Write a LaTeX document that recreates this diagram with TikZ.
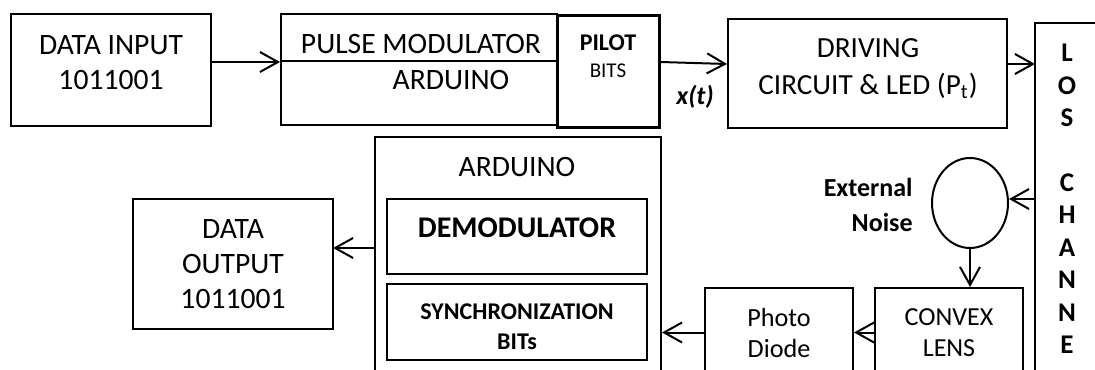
\documentclass[tikz,border=0pt]{standalone}
\usepackage{fontspec}
\setmainfont{Carlito}
\usetikzlibrary{shapes.geometric, arrows.meta, positioning, calc}

\begin{document}
\begin{tikzpicture}[x=0.5pt, y=-0.5pt,
  block/.style={rectangle, draw=black, line width=1pt, inner sep=0pt, align=center, font=\fontsize{14.8}{17.5}\selectfont},
  lbl/.style={inner sep=0pt, align=center, font=\fontsize{14.8}{17.5}\selectfont},
  link/.style={line width=1pt, -{Straight Barb[length=9pt, width=10pt]}}]
\useasboundingbox (0,0) rectangle (1095,369);
\clip (0,0) rectangle (1095,369);

% transmitter
\node[block, minimum width=100pt, minimum height=56pt] (in) at (111,70) {};
\node[lbl] at (111,62.5) {DATA INPUT\\1011001};
\node[block, minimum width=138pt, minimum height=23.5pt] (pulse) at (419,37.5) {};
\node[block, minimum width=138pt, minimum height=32pt] (ardtx) at (419,93) {};
\node[lbl] at (421,44) {PULSE MODULATOR};
\node[lbl] at (451,80) {ARDUINO};
\node[block, line width=1.5pt, minimum width=51pt, minimum height=55.5pt] (pilot) at (608,71.5) {};
\node[lbl, font=\fontsize{12}{14}\selectfont\bfseries] at (608,43) {PILOT};
\node[lbl, font=\fontsize{10.5}{12}\selectfont] at (608,71) {BITS};
\node[lbl, font=\fontsize{13}{14}\selectfont\bfseries\itshape] (xt) at (695,97) {x(t)};
\node[block, minimum width=139.5pt, minimum height=54.5pt] (drive) at (867.5,73.5) {};
\node[lbl, font=\fontsize{14.6}{18.5}\selectfont] at (868,68.5) {DRIVING\\CIRCUIT \& LED (P\textsubscript{t})};

% channel
\node[block, minimum width=60pt, minimum height=200pt] (los) at (1095,223) {};
\node[lbl, font=\fontsize{13.5}{16.2}\selectfont\bfseries] at (1067,199) {L\\O\\S\\~\\C\\H\\A\\N\\N\\E};
\coordinate (toLos) at (1035,64);
\coordinate (fromLos) at (1035,199);

% receiver
\node[ellipse, draw=black, line width=1pt, inner sep=0pt, minimum width=38pt, minimum height=45pt] (noise) at (970,203) {};
\node[lbl, anchor=east, align=right, font=\fontsize{13}{17.5}\selectfont\bfseries] at (913,204.5) {External\\Noise};
\node[block, minimum width=74pt, minimum height=44.5pt, font=\fontsize{13}{15.5}\selectfont] (lens) at (949,332.5) {CONVEX\\LENS};
\node[block, minimum width=74pt, minimum height=44.5pt, font=\fontsize{13.1}{15.5}\selectfont] (photo) at (779,332.5) {Photo\\Diode};
\node[block, minimum width=143pt, minimum height=131.5pt] (ardrx) at (518,268.5) {};
\node[lbl] at (517,167) {ARDUINO};
\node[block, minimum width=130pt, minimum height=37.5pt] (demod) at (517,236.5) {};
\node[lbl, font=\fontsize{15}{17.5}\selectfont\bfseries] at (517,228) {DEMODULATOR};
\node[block, minimum width=130pt, minimum height=38pt] (sync) at (517,322) {};
\node[lbl, font=\fontsize{12}{15}\selectfont\bfseries] at (517,327) {SYNCHRONIZATION\\BITs};
\node[block, minimum width=100pt, minimum height=65pt] (out) at (233,264) {DATA\\OUTPUT\\1011001};
\coordinate (toOut) at (333,248);

\draw[link] (in.east |- pulse.south) -- (pulse.south west);
\draw[link] (pilot.east |- pulse.south) -- (drive.west |- toLos);
\draw[link] (drive.east |- toLos) -- (toLos);
\draw[link] (fromLos) -- (noise.east |- fromLos);
\draw[link] (noise.south) -- (noise.south |- lens.north);
\draw[link] (lens.west) -- (photo.east);
\draw[link] (photo.west) -- (photo.west -| ardrx.east);
\draw[link] (ardrx.west |- toOut) -- (toOut);
\end{tikzpicture}
\end{document}
